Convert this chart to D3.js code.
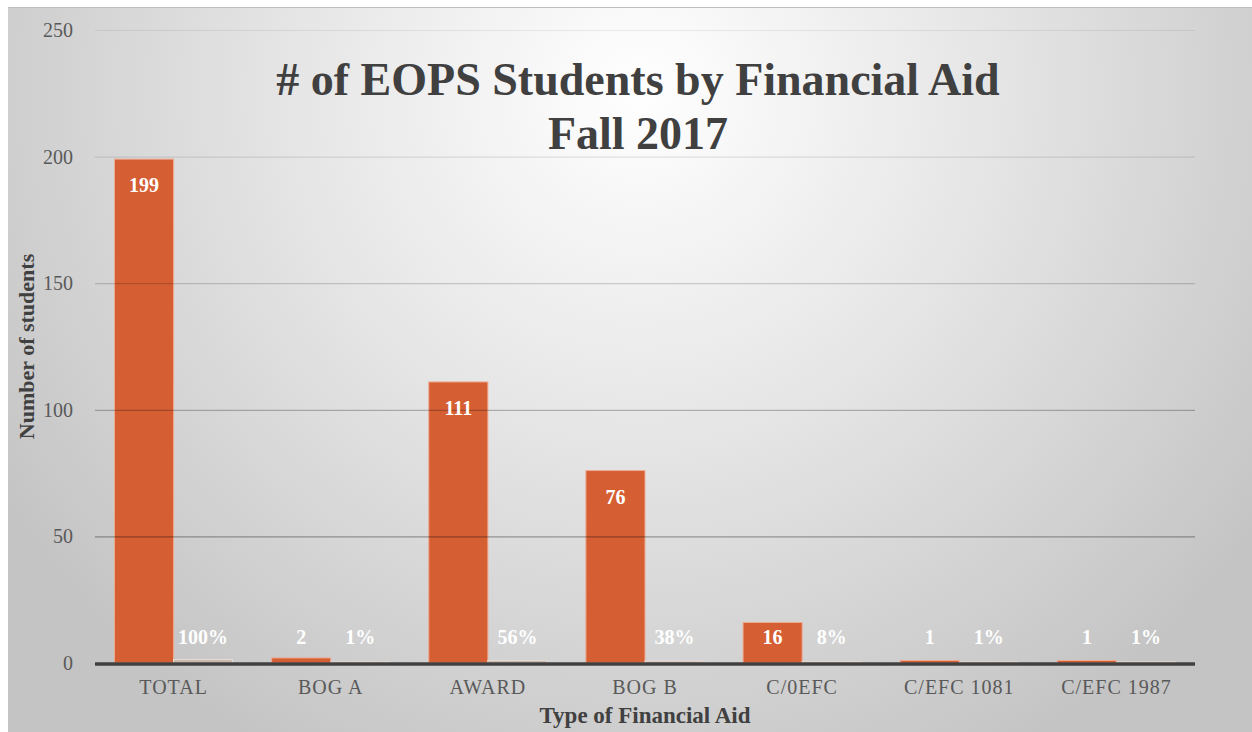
<!DOCTYPE html>
<html>
<head>
<meta charset="utf-8">
<script src="https://cdn.jsdelivr.net/npm/d3@7"></script>
<style>
  body { margin: 0; background: #fff; }
  text { font-family: "Liberation Serif", "DejaVu Serif", serif; }
</style>
</head>
<body>
<svg id="chart" width="1252" height="732"></svg>
<script>
const categories = ["TOTAL", "BOG A", "AWARD", "BOG B", "C/0EFC", "C/EFC 1081", "C/EFC 1987"];
const students = [199, 2, 111, 76, 16, 1, 1];
const shares = [1.0, 0.01, 0.56, 0.38, 0.08, 0.01, 0.01];
const shareLabels = ["100%", "1%", "56%", "38%", "8%", "1%", "1%"];
const yTicks = [0, 50, 100, 150, 200, 250];

const W = 1252, H = 732;
const margin = { top: 30, right: 57, bottom: 69, left: 95 };

const svg = d3.select("#chart");
const defs = svg.append("defs");

// background
const bg = defs.append("radialGradient")
  .attr("id", "bg")
  .attr("gradientUnits", "userSpaceOnUse")
  .attr("cx", 640).attr("cy", 90).attr("r", 760);
bg.append("stop").attr("offset", "0%").attr("stop-color", "#ffffff");
bg.append("stop").attr("offset", "45%").attr("stop-color", "#e6e6e6");
bg.append("stop").attr("offset", "100%").attr("stop-color", "#c4c4c4");

const gridGrad = defs.append("linearGradient")
  .attr("id", "gridGrad")
  .attr("gradientUnits", "userSpaceOnUse")
  .attr("x1", 0).attr("y1", 20).attr("x2", 0).attr("y2", 663);
gridGrad.append("stop").attr("offset", "0%").attr("stop-color", "#000").attr("stop-opacity", 0.07);
gridGrad.append("stop").attr("offset", "30%").attr("stop-color", "#000").attr("stop-opacity", 0.12);
gridGrad.append("stop").attr("offset", "100%").attr("stop-color", "#000").attr("stop-opacity", 0.42);

svg.append("rect")
  .attr("x", 8).attr("y", 7)
  .attr("width", W - 8).attr("height", H - 7)
  .attr("fill", "url(#bg)");
svg.append("line")
  .attr("x1", 8).attr("x2", W).attr("y1", 7.5).attr("y2", 7.5)
  .attr("stroke", "#bdbdbd");

const x = d3.scaleBand()
  .domain(categories)
  .range([margin.left, W - margin.right])
  .padding(0);

const sub = d3.scaleBand()
  .domain(["count", "share"])
  .range([0, x.bandwidth()])
  .paddingInner(0)
  .paddingOuter(0.33);

const y = d3.scaleLinear()
  .domain([0, 250])
  .range([H - margin.bottom, margin.top]);

const data = categories.map((c, i) => ({
  cat: c, count: students[i], share: shares[i], shareLabel: shareLabels[i]
}));

const g = svg.append("g");

g.selectAll(".bar-count")
  .data(data)
  .join("rect")
  .attr("x", d => x(d.cat) + sub("count"))
  .attr("y", d => y(d.count))
  .attr("width", sub.bandwidth())
  .attr("height", d => y(0) - y(d.count))
  .attr("fill", "#d55e33")
  .attr("stroke", "#eeaa90")
  .attr("stroke-width", 1);

g.selectAll(".bar-share")
  .data(data)
  .join("rect")
  .attr("x", d => x(d.cat) + sub("share"))
  .attr("y", d => y(d.share) - 1)
  .attr("width", sub.bandwidth())
  .attr("height", d => y(0) - y(d.share) + 1)
  .attr("fill", "#c9b8ae")
  .attr("stroke", "#e8ddd6")
  .attr("stroke-width", 1);

// gridlines over the bars
svg.append("g")
  .selectAll("line")
  .data(yTicks.filter(t => t > 0))
  .join("line")
  .attr("x1", margin.left)
  .attr("x2", W - margin.right)
  .attr("y1", d => y(d) + 0.5)
  .attr("y2", d => y(d) + 0.5)
  .attr("stroke", "url(#gridGrad)")
  .attr("stroke-width", 1.2);

// baseline
svg.append("line")
  .attr("x1", margin.left)
  .attr("x2", W - margin.right)
  .attr("y1", y(0) + 1)
  .attr("y2", y(0) + 1)
  .attr("stroke", "#404040")
  .attr("stroke-width", 3.5);

// y axis labels
const yAxis = svg.append("g")
  .attr("transform", `translate(${margin.left},0)`)
  .call(d3.axisLeft(y).tickValues(yTicks).tickSize(0).tickPadding(22));
yAxis.select(".domain").remove();
yAxis.selectAll("text")
  .attr("fill", "#595959")
  .style("font-size", "20px")
  .style("font-family", "'Liberation Serif', serif");

// x axis labels
const xAxis = svg.append("g")
  .attr("transform", `translate(0,${y(0)})`)
  .call(d3.axisBottom(x).tickSize(0).tickPadding(17));
xAxis.select(".domain").remove();
xAxis.selectAll("text")
  .attr("fill", "#595959")
  .style("font-size", "20px")
  .style("letter-spacing", "1px")
  .style("font-family", "'Liberation Serif', serif");

// data labels
const labelY = v => Math.min(y(v) + 26, 637);

svg.append("g")
  .selectAll("text")
  .data(data)
  .join("text")
  .attr("x", d => x(d.cat) + sub("count") + sub.bandwidth() / 2)
  .attr("y", d => labelY(d.count))
  .attr("dy", "0.35em")
  .attr("text-anchor", "middle")
  .attr("fill", "#ffffff")
  .attr("font-weight", "bold")
  .style("font-size", "20px")
  .text(d => d.count);

svg.append("g")
  .selectAll("text")
  .data(data)
  .join("text")
  .attr("x", d => x(d.cat) + sub("share") + sub.bandwidth() / 2)
  .attr("y", d => labelY(d.share))
  .attr("dy", "0.35em")
  .attr("text-anchor", "middle")
  .attr("fill", "#ffffff")
  .attr("font-weight", "bold")
  .style("font-size", "20px")
  .text(d => d.shareLabel);

// titles
const title = svg.append("text")
  .attr("x", 638)
  .attr("text-anchor", "middle")
  .attr("fill", "#404040")
  .attr("font-weight", "bold")
  .style("font-size", "46px");
title.append("tspan").attr("x", 638).attr("y", 95).text("# of EOPS Students by Financial Aid");
title.append("tspan").attr("x", 638).attr("y", 149).text("Fall 2017");

svg.append("text")
  .attr("transform", `translate(34,${(y(0) + y(250)) / 2}) rotate(-90)`)
  .attr("text-anchor", "middle")
  .attr("fill", "#404040")
  .attr("font-weight", "bold")
  .style("font-size", "22px")
  .text("Number of students");

svg.append("text")
  .attr("x", 645)
  .attr("y", 723)
  .attr("text-anchor", "middle")
  .attr("fill", "#404040")
  .attr("font-weight", "bold")
  .style("font-size", "23px")
  .text("Type of Financial Aid");
</script>
</body>
</html>
